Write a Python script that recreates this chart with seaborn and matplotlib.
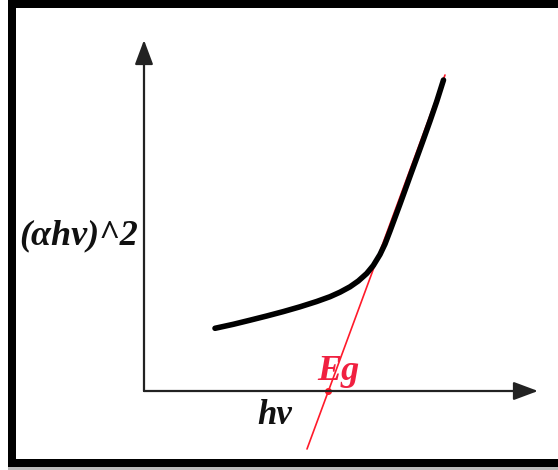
import matplotlib
matplotlib.use("Agg")
import matplotlib.pyplot as plt
import seaborn as sns
import pandas as pd
from matplotlib.patches import Rectangle

# Absorption curve (photon energy hv in eV, (alpha*h*nu)^2 arbitrary units)
hv = [2.210, 2.393, 2.560, 2.727, 2.893, 3.060, 3.227, 3.360, 3.460, 3.560,
      3.643, 3.727, 3.793, 3.860, 3.910, 3.960, 4.010, 4.060, 4.110, 4.160,
      4.227, 4.293, 4.360, 4.427, 4.495]
ahv2 = [0.627, 0.667, 0.708, 0.750, 0.794, 0.842, 0.895, 0.943, 0.988, 1.042,
        1.100, 1.175, 1.255, 1.365, 1.470, 1.600, 1.735, 1.870, 2.008, 2.147,
        2.330, 2.512, 2.700, 2.895, 3.110]

# Tangent (Tauc) line extrapolated to the energy axis
tan_hv = [3.13, 4.51]
tan_y = [-0.58, 3.16]
Eg = 3.34

# Axis origin and arrow ends
origin = (1.50, 0.00)
x_end = 5.44
y_end = 3.51

sns.set_style("white")
fig = plt.figure(figsize=(5.58, 4.70), dpi=100)
ax = fig.add_axes([0, 0, 1, 1])
ax.set_xlim(0.06, 5.64)
ax.set_ylim(-0.79, 3.91)
ax.axis("off")

curve = pd.DataFrame({"hv": hv, "y": ahv2})
tang = pd.DataFrame({"hv": tan_hv, "y": tan_y})

# axes arrows
arrow_kw = dict(arrowstyle="-|>,head_length=0.75,head_width=0.28", color="#222222",
                lw=1.6, mutation_scale=20, shrinkA=0, shrinkB=0)
ax.annotate("", xy=(x_end, origin[1]), xytext=origin, arrowprops=arrow_kw)
ax.annotate("", xy=(origin[0], y_end), xytext=origin, arrowprops=arrow_kw)

sns.lineplot(data=tang, x="hv", y="y", ax=ax, color="#ff1a2a", lw=1.2, sort=False)
sns.lineplot(data=curve, x="hv", y="y", ax=ax, color="black", lw=4.0, sort=False,
             solid_capstyle="round", solid_joinstyle="round")
ax.plot([Eg], [0], "o", color="#ff1a2a", ms=4)

font = dict(family=["Liberation Serif", "DejaVu Serif"], style="italic", weight="bold")
ax.text(0.85, 1.55, "(αhν)^2", fontsize=26, ha="center", va="center", color="#111111", **font)
ax.text(2.81, -0.25, "hν", fontsize=25, ha="center", va="center", color="#111111", **font)
ax.text(3.44, 0.19, "Eg", fontsize=26, ha="center", va="center", color="#f02040", **font)

# frame border (right side cut off)
W, H = 558, 470
def rect(x0, y0, w, h, c):
    fig.add_artist(Rectangle((x0 / W, 1 - (y0 + h) / H), w / W, h / H,
                             transform=fig.transFigure, color=c, lw=0))
rect(8, 467, 550, 3, "#bbbbbb")
rect(8, 0, 550, 8, "black")
rect(8, 0, 8, 467, "black")
rect(8, 459, 550, 8, "black")

fig.savefig("out.png", dpi=100)
